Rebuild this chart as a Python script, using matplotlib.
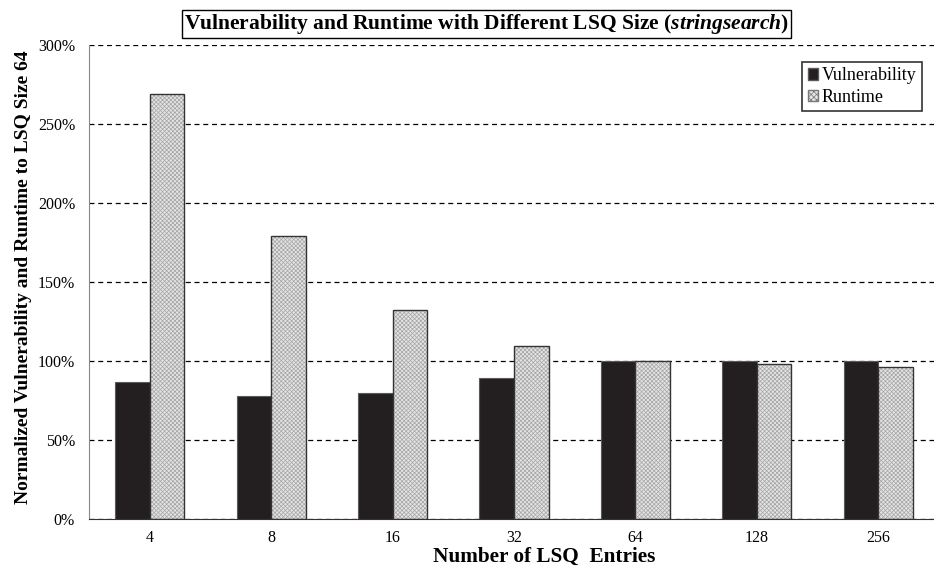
import matplotlib.pyplot as plt
import numpy as np
from matplotlib.patches import Patch
from matplotlib.ticker import FuncFormatter

plt.rcParams['font.family'] = ['Liberation Serif', 'DejaVu Serif']
plt.rcParams['mathtext.fontset'] = 'custom'
plt.rcParams['mathtext.it'] = 'Liberation Serif:italic:bold'
plt.rcParams['mathtext.rm'] = 'Liberation Serif:bold'
plt.rcParams['hatch.linewidth'] = 0.5

lsq_sizes = ['4', '8', '16', '32', '64', '128', '256']
vulnerability = [87, 78, 80, 89, 100, 100, 100]
runtime = [269, 179, 132, 109.5, 100, 98, 96.5]

x = np.arange(len(lsq_sizes))
w = 0.285

fig = plt.figure(figsize=(9.34, 5.67), dpi=100)
ax = fig.add_axes([0.0953, 0.0847, 0.9047, 0.836])

ax.bar(x - w / 2, vulnerability, w, color='#231f20', edgecolor='#5a5a5a',
       linewidth=0.8, zorder=3)
ax.bar(x + w / 2, runtime, w, color='#e4e4e4', edgecolor='#a5a5a5',
       hatch='xxxxxxxx', linewidth=0, zorder=3)
ax.bar(x + w / 2, runtime, w, fill=False, edgecolor='#333333',
       linewidth=1.0, zorder=4)

ax.set_xlim(-0.5, 6.46)
ax.set_ylim(0, 300)
ax.set_yticks(np.arange(0, 301, 50))
ax.yaxis.set_major_formatter(FuncFormatter(lambda v, p: '%d%%' % v))
ax.set_xticks(x)
ax.set_xticklabels(lsq_sizes)
ax.tick_params(length=0, labelsize=11.5)
ax.tick_params(axis='x', pad=8)
ax.tick_params(axis='y', pad=10)
ax.yaxis.grid(True, color='black', linestyle=(0, (4, 3)), linewidth=0.9, zorder=0)
ax.set_axisbelow(True)

for s in ['top', 'right']:
    ax.spines[s].set_visible(False)
ax.spines['left'].set_color('#888888')
ax.spines['bottom'].set_color('#333333')
ax.spines['bottom'].set_zorder(5)

handles = [Patch(facecolor='#231f20', edgecolor='#5a5a5a', label='Vulnerability'),
           Patch(facecolor='#e4e4e4', edgecolor='#777777', hatch='xxxxxx', label='Runtime')]
leg = ax.legend(handles=handles, loc='upper right', bbox_to_anchor=(0.986, 0.964),
                fontsize=13, frameon=True, fancybox=False, handlelength=0.6,
                handleheight=0.6, handletextpad=0.2, borderpad=0.3,
                labelspacing=0.25, borderaxespad=0)
leg.get_frame().set_edgecolor('black')
leg.get_frame().set_linewidth(1.2)

fig.text(0.521, 0.958,
         r'Vulnerability and Runtime with Different LSQ Size ($\mathit{stringsearch}$)',
         ha='center', va='center', fontsize=15.5, fontweight='bold',
         bbox=dict(facecolor='white', edgecolor='black', linewidth=1, pad=1.5))

fig.text(0.025, 0.511, 'Normalized Vulnerability and Runtime to LSQ Size 64',
         rotation=90, ha='center', va='center', fontsize=14, fontweight='bold')
fig.text(0.583, 0.017, 'Number of LSQ  Entries', ha='center', va='center',
         fontsize=15.3, fontweight='bold')

fig.savefig('out.png', dpi=100)
